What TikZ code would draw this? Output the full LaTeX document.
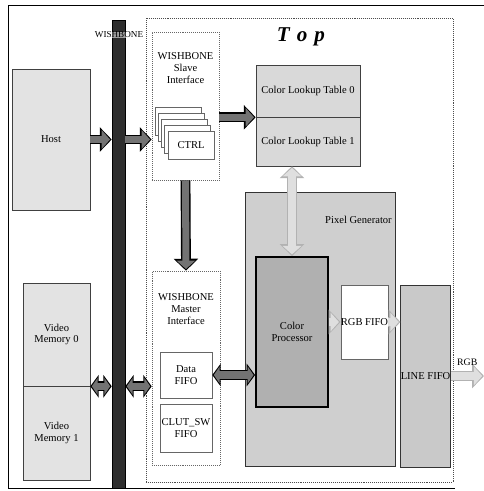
\documentclass[tikz,border=0pt]{standalone}
\usepackage{fontspec}
\setmainfont{Liberation Serif}
\usetikzlibrary{arrows.meta}

\tikzset{
  blk/.style={rectangle, draw=black!75, thin, inner sep=1pt, align=center, font=\fontsize{7.5}{8.5}\selectfont},
  ifbox/.style={blk, draw=black!60, densely dotted, fill=white},
  fifobox/.style={blk, draw=black!60, fill=white},
  lbl/.style={inner sep=0pt, align=center, font=\fontsize{7.5}{8.5}\selectfont},
  darrow/.style={line width=5pt, draw=black!55, shorten >=1.2pt, -{Triangle[length=6pt,width=13pt]},
    preaction={draw=black, line width=7pt, shorten >=0pt, -{Triangle[length=8.5pt,width=17pt]}}},
  ddarrow/.style={line width=5pt, draw=black!55, shorten >=1.1pt, shorten <=1.1pt,
    {Triangle[length=4.2pt,width=12pt]}-{Triangle[length=4.2pt,width=12pt]},
    preaction={draw=black, line width=7pt, shorten >=0pt, shorten <=0pt,
      {Triangle[length=6pt,width=16pt]}-{Triangle[length=6pt,width=16pt]}}},
  larrow/.style={line width=5pt, draw=gray!25, shorten >=1.2pt, -{Triangle[length=6pt,width=13pt]},
    preaction={draw=gray!60, line width=7pt, shorten >=0pt, -{Triangle[length=8.5pt,width=17pt]}}},
  ldarrow/.style={line width=5pt, draw=gray!25, shorten >=1.2pt, shorten <=1.2pt,
    {Triangle[length=6pt,width=13pt]}-{Triangle[length=6pt,width=13pt]},
    preaction={draw=gray!60, line width=7pt, shorten >=0pt, shorten <=0pt,
      {Triangle[length=8.5pt,width=17pt]}-{Triangle[length=8.5pt,width=17pt]}}}
}

\begin{document}
\begin{tikzpicture}[x=0.025cm, y=-0.025cm]
    \useasboundingbox (0,0) rectangle (484,491);
    % outer frame
    \draw[thin] (484,5) -- (8,5) -- (8,488) -- (455,488);

    % Top frame and title
    \node[rectangle, draw=black!70, densely dotted, minimum width=7.675cm, minimum height=11.6cm] (top) at (299.5,250) {};
    \node[font=\fontsize{15}{18}\selectfont\bfseries\itshape] (toptitle) at (301,37) {T\hspace{5pt}o\hspace{5pt}p};

    % WISHBONE bus
    \node[rectangle, fill=black!82, draw=black, inner sep=0pt, minimum width=0.325cm, minimum height=11.7cm] (bus) at (118.5,254) {};
    \node[lbl, font=\fontsize{6.5}{7.5}\selectfont, fill=white, fill opacity=0.55, text opacity=1] (buslbl) at (119,35) {WISHBONE};

    % External blocks
    \node[blk, fill=gray!22, minimum width=1.95cm, minimum height=3.525cm] (host) at (51,139.5) {Host};
    \node[blk, fill=gray!22, minimum width=1.675cm, minimum height=2.575cm] (vmem0) at (56.5,334.5) {Video\\Memory 0};
    \node[blk, fill=gray!22, minimum width=1.675cm, minimum height=2.35cm] (vmem1) at (56.5,433) {Video\\Memory 1};

    % Slave interface with stacked CTRL registers
    \node[ifbox, minimum width=1.675cm, minimum height=3.7cm] (slave) at (185.5,106) {};
    \node[lbl] (slavelbl) at (185.5,68) {WISHBONE\\Slave\\Interface};
    \foreach \k in {4,3,2,1} {
        \node[fifobox, minimum width=1.15cm, minimum height=0.7cm] (ctrl\k) at ({191-3.25*\k},{145-6*\k}) {};
    }
    \node[fifobox, minimum width=1.15cm, minimum height=0.7cm] (ctrl) at (191,145) {CTRL};

    % Color lookup tables
    \node[blk, fill=gray!30, minimum width=2.6cm, minimum height=1.3cm] (clut0) at (308,91) {Color Lookup Table 0};
    \node[blk, fill=gray!30, minimum width=2.6cm, minimum height=1.225cm] (clut1) at (308,141.5) {Color Lookup Table 1};

    % Master interface
    \node[ifbox, minimum width=1.7cm, minimum height=4.85cm] (master) at (186,368) {};
    \node[lbl] (masterlbl) at (186,309) {WISHBONE\\Master\\Interface};
    \node[fifobox, minimum width=1.3cm, minimum height=1.15cm] (datafifo) at (186,375) {Data\\FIFO};
    \node[fifobox, minimum width=1.3cm, minimum height=1.2cm] (clutsw) at (186,428) {CLUT\_SW\\FIFO};

    % Pixel generator
    \node[blk, draw=black!80, fill=gray!38, minimum width=3.75cm, minimum height=6.85cm] (pixgen) at (320,329) {};
    \node[lbl, anchor=east] (pixgenlbl) at (392,220) {Pixel Generator};
    \node[blk, draw=black, line width=1.3pt, fill=gray!62, minimum width=1.8cm, minimum height=3.75cm] (colproc) at (292,332) {Color\\Processor};
    \node[fifobox, inner sep=0pt, minimum width=1.125cm, minimum height=1.85cm] (rgbfifo) at (364.5,322) {RGB FIFO};
    \node[blk, inner sep=0pt, draw=black!80, fill=gray!42, minimum width=1.225cm, minimum height=4.55cm] (linefifo) at (425.5,376) {LINE FIFO};
    \coordinate (rgbout) at (484,376);

    % Connections
    \draw[darrow] (host.east) -- (host.east -| bus.west);
    \draw[darrow] (bus.east |- host.east) -- (slave.west |- host.east);
    \draw[darrow] (slave.east |- clut0.south west) -- (clut0.south west);
    \draw[darrow] (slave.south) -- (master.north);
    \draw[ldarrow] (colproc.north |- clut1.south) -- (colproc.north);
    \draw[ddarrow] (vmem0.south east) -- (vmem0.south east -| bus.west);
    \draw[ddarrow] (bus.east |- vmem0.south east) -- (master.west |- vmem0.south east);
    \draw[ddarrow] (datafifo.east) -- (datafifo.east -| colproc.west);
    \draw[larrow] (rgbfifo.west -| colproc.east) -- (rgbfifo.west);
    \draw[larrow] (rgbfifo.east) -- (rgbfifo.east -| linefifo.west);
    \draw[larrow] (linefifo.east) -- node[lbl, font=\fontsize{7}{8}\selectfont, above=5pt] (rgblbl) {RGB} (rgbout);
\end{tikzpicture}
\end{document}
